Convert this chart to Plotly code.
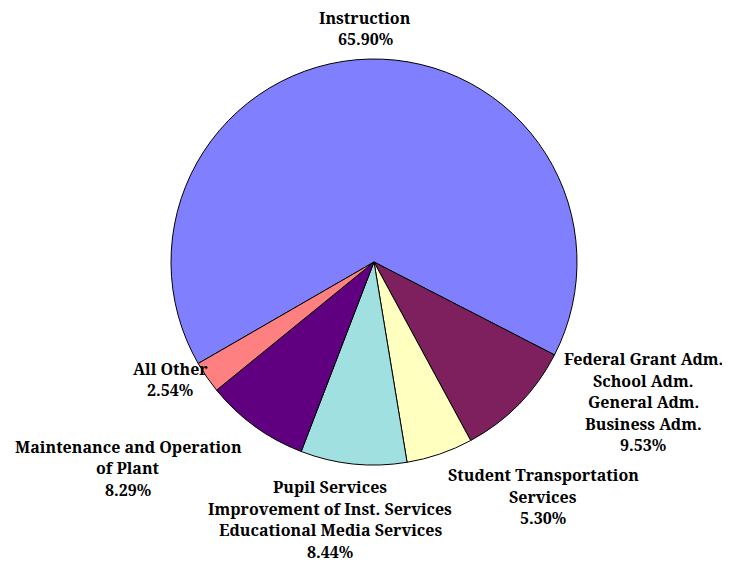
import plotly.graph_objects as go

categories = ["Instruction", "Federal Grant Adm.<br>School Adm.<br>General Adm.<br>Business Adm.",
              "Student Transportation<br>Services",
              "Pupil Services<br>Improvement of Inst. Services<br>Educational Media Services",
              "Maintenance and Operation<br>of Plant", "All Other"]
values = [65.90, 9.53, 5.30, 8.44, 8.29, 2.54]
colors = ["#8080FF", "#7E1F5E", "#FFFFC0", "#A0E0E0", "#600080", "#FF8080"]

OFF = 8  # browser body margin
W, H = 730 - OFF, 562 - OFF
# label centres in reference pixels (layout only)
label_pos = [(365, 28.5), (643, 402), (543, 496.5), (330, 519.5), (128, 468), (170, 379.5)]
LINE = 21.5
cx, cy, r = 374 - OFF, 262 - OFF, 203
FONT = "Noto Serif, DejaVu Serif, serif"

fig = go.Figure(go.Pie(
    labels=categories, values=values, sort=False, direction="clockwise",
    rotation=240, marker=dict(colors=colors, line=dict(color="black", width=1)),
    textinfo="none", hoverinfo="label+percent", showlegend=False,
    domain=dict(x=[(cx - r)/W, (cx + r)/W], y=[(H - cy - r)/H, (H - cy + r)/H]),
))

for cat, v, (px, py) in zip(categories, values, label_pos):
    lines = cat.split("<br>") + [f"{v:.2f}%"]
    n = len(lines)
    for i, ln in enumerate(lines):
        ly = py + (i - (n - 1) / 2) * LINE
        fig.add_annotation(x=(px - OFF)/W, y=1 - (ly - OFF)/H, xref="paper", yref="paper",
                           text=f"<b>{ln}</b>", showarrow=False,
                           xanchor="center", yanchor="middle", align="center",
                           font=dict(family=FONT, size=16, color="black"))

fig.update_layout(width=W, height=H, margin=dict(l=0, r=0, t=0, b=0),
                  paper_bgcolor="white", plot_bgcolor="white")
fig.write_html("out.html")
